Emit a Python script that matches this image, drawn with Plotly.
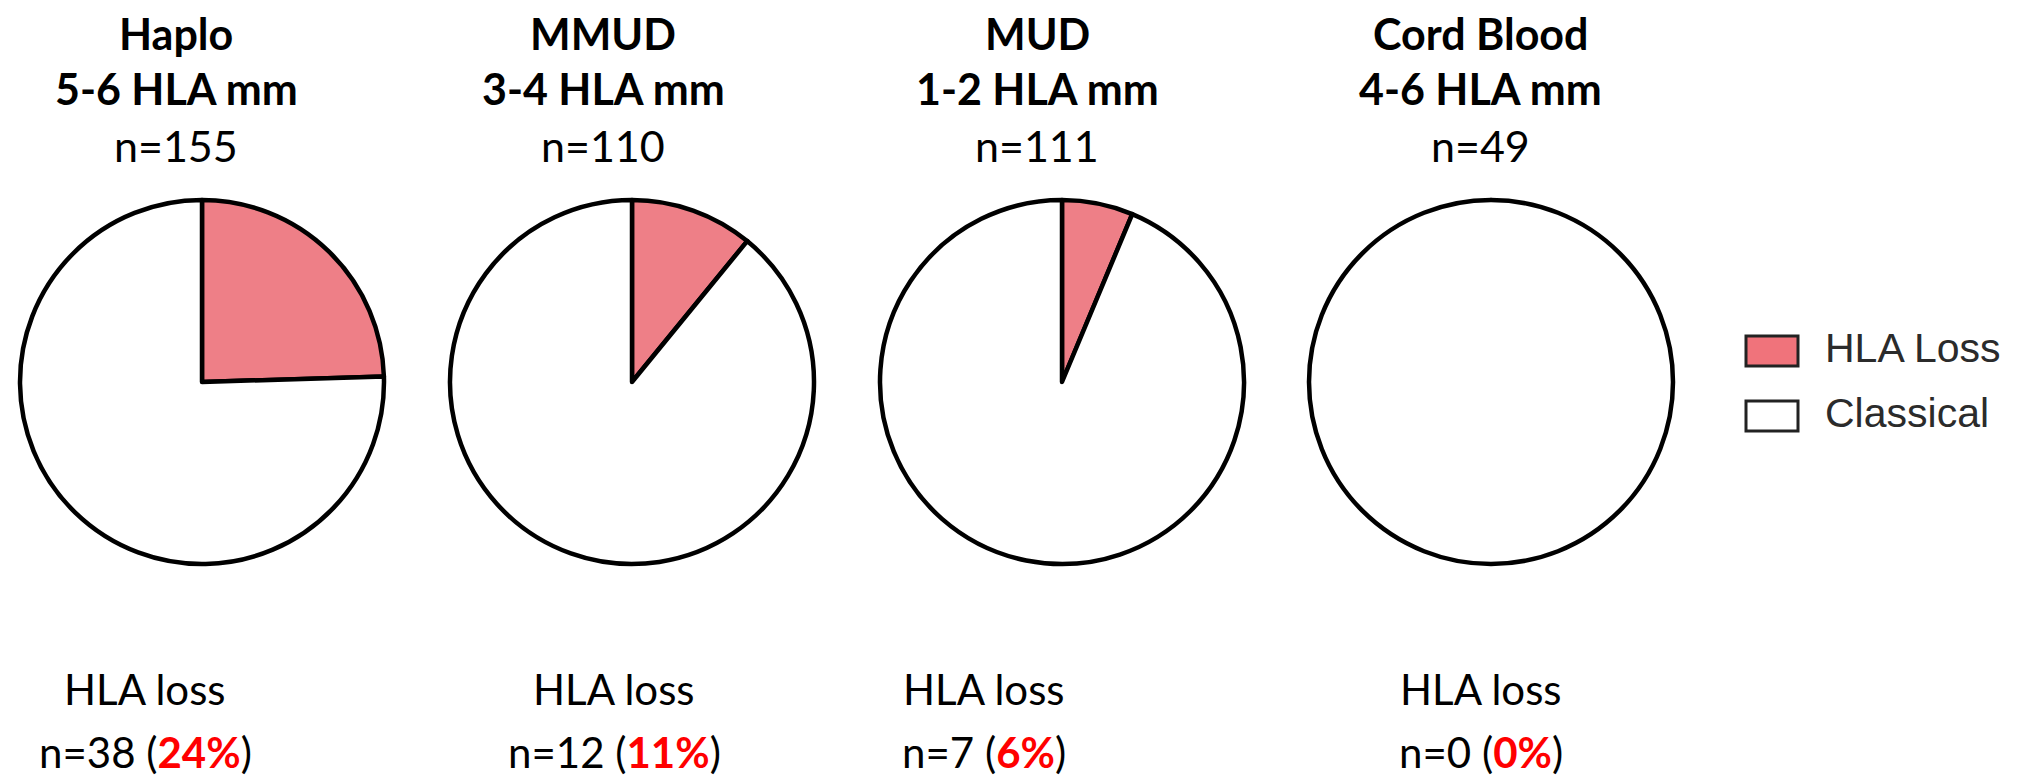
import plotly.graph_objects as go

# ---- data ----
groups = ["Haplo", "MMUD", "MUD", "Cord Blood"]
mismatch = ["5-6 HLA mm", "3-4 HLA mm", "1-2 HLA mm", "4-6 HLA mm"]
totals = [155, 110, 111, 49]
hla_loss = [38, 12, 7, 0]
pct_labels = ["24%", "11%", "6%", "0%"]
slice_labels = ["HLA Loss", "Classical"]

W, H = 2027, 781
PINK = "#EE7F87"
LEGEND_PINK = "#F0737B"

pie_cx = [202, 632, 1062, 1491]
pie_cy = 382
pie_r = 182
title_cx = [176, 603, 1037, 1480]
bottom_cx = [145, 614, 984, 1481]

FONT = "Lato"

fig = go.Figure()
for i in range(4):
    vals = [hla_loss[i], totals[i] - hla_loss[i]]
    x0 = (pie_cx[i] - pie_r) / W
    x1 = (pie_cx[i] + pie_r) / W
    y0 = (H - pie_cy - pie_r) / H
    y1 = (H - pie_cy + pie_r) / H
    fig.add_trace(go.Pie(
        labels=slice_labels,
        values=vals,
        sort=False,
        direction="clockwise",
        rotation=0,
        textinfo="none",
        marker=dict(colors=[PINK, "#FFFFFF"], line=dict(color="#000000", width=4.5)),
        domain=dict(x=[x0, x1], y=[y0, y1]),
        showlegend=False,
        name=groups[i],
    ))

ann = []
def add_text(x, y_px, text, size, color="#000000", family=FONT, xanchor="center"):
    ann.append(dict(
        x=x / W, y=1 - y_px / H, xref="paper", yref="paper",
        text=text, showarrow=False, xanchor=xanchor, yanchor="middle",
        font=dict(family=family, size=size, color=color),
    ))

TS = 43
for i in range(4):
    add_text(title_cx[i], 34, f"<b>{groups[i]}</b>", TS)
    add_text(title_cx[i], 89, f"<b>{mismatch[i]}</b>", TS)
    add_text(title_cx[i], 145, f"n={totals[i]}", TS)

BS = 42
for i in range(4):
    add_text(bottom_cx[i], 689, "HLA loss", BS)
    add_text(bottom_cx[i], 752,
             f"n={hla_loss[i]} (<span style='color:#FF0000'><b>{pct_labels[i]}</b></span>)", BS)

# legend (custom, larger than plotly's built-in symbols)
leg_y = [351, 416]
leg_fill = [LEGEND_PINK, "#FFFFFF"]
shapes = []
for k in range(2):
    shapes.append(dict(
        type="rect", xref="paper", yref="paper",
        x0=1746 / W, x1=1798 / W,
        y0=1 - (leg_y[k] + 15) / H, y1=1 - (leg_y[k] - 15) / H,
        fillcolor=leg_fill[k], line=dict(color="#222222", width=3),
    ))
    add_text(1823, leg_y[k] - 3, slice_labels[k], 41, color="#2b2b2b",
             family="Liberation Sans", xanchor="left")

fig.update_layout(
    width=W, height=H,
    margin=dict(l=0, r=0, t=0, b=0),
    paper_bgcolor="white", plot_bgcolor="white",
    annotations=ann, shapes=shapes,
    showlegend=False,
)

fig.write_html(
    "out.html",
    config={"displayModeBar": False},
    post_script="document.body.style.margin='0';document.body.style.overflow='hidden';",
)
